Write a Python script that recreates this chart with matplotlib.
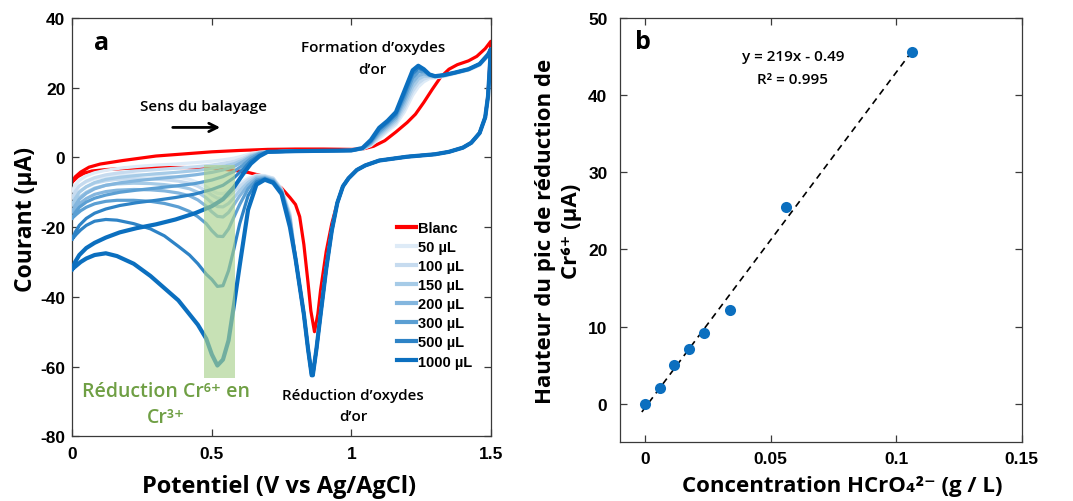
import matplotlib
matplotlib.use("Agg")
import matplotlib.pyplot as plt
import numpy as np
from matplotlib.patches import Rectangle

plt.rcParams['font.family'] = ['Open Sans', 'DejaVu Sans']
plt.rcParams['axes.unicode_minus'] = False

# ---------------- panel a : voltammograms ----------------
labels = ['50 µL', '100 µL', '150 µL', '200 µL', '300 µL', '500 µL', '1000 µL']
colors = ['#deebf7', '#c6dbef', '#a6cbe7', '#84b6de', '#5b9fd3', '#2e83c6', '#0b6fbf']

# blank (red)
blank_fwd_x = [0, 0.01, 0.03, 0.06, 0.1, 0.18, 0.3, 0.4, 0.5, 0.6, 0.7, 0.8, 0.9, 1.0, 1.04, 1.08,
               1.12, 1.16, 1.2, 1.23, 1.26, 1.29, 1.32, 1.35, 1.38, 1.42, 1.45, 1.48, 1.5]
blank_fwd_y = [-7, -5.6, -4.2, -2.8, -1.9, -0.9, 0.4, 1.0, 1.6, 2.0, 2.3, 2.4, 2.4, 2.3, 2.4, 3.2,
               4.8, 7.3, 10.0, 12.4, 15.8, 19.5, 23.0, 25.3, 26.6, 27.7, 29.0, 31.2, 33.3]
blank_rev_x = [1.5, 1.495, 1.49, 1.48, 1.46, 1.43, 1.4, 1.35, 1.3, 1.2, 1.1, 1.05, 1.02, 0.99, 0.97,
               0.95, 0.93, 0.91, 0.89, 0.88, 0.868, 0.855, 0.845, 0.83, 0.815, 0.8, 0.78, 0.75, 0.72,
               0.68, 0.63, 0.58, 0.5, 0.4, 0.3, 0.2, 0.12, 0.07, 0.04, 0.02, 0.0]
blank_rev_y = [33.3, 25, 18, 11.5, 7, 4.2, 2.8, 1.6, 0.9, 0.2, -0.9, -2.3, -3.6, -6, -8.3,
               -13, -19, -27, -38, -45, -50, -44, -36, -25, -17, -13.5, -11.5, -8.8, -7,
               -5.3, -4.3, -3.7, -3.1, -2.9, -2.9, -3.1, -3.5, -3.9, -4.6, -5.5, -7.0]

# Cr(VI) additions (blue), forward sweep 0 -> 0.67 V
fwd_x_left = [0, 0.01, 0.025, 0.05, 0.08, 0.12, 0.17, 0.23, 0.3, 0.37, 0.44, 0.5, 0.54, 0.58,
              0.61, 0.64, 0.67]
fwd_y_left = [
    [-9.5, -8, -6.6, -5.3, -4.4, -3.7, -3.1, -2.6, -2.2, -1.9, -1.5, -1.1, -0.7, -0.2, 0.4, 1.1, 1.5],
    [-11.5, -9.8, -8.2, -6.8, -5.8, -5.0, -4.4, -3.9, -3.5, -3.1, -2.7, -2.2, -1.7, -1.1, -0.3, 0.8, 1.4],
    [-13.5, -11.8, -10, -8.4, -7.2, -6.3, -5.7, -5.2, -4.7, -4.3, -3.8, -3.2, -2.6, -1.8, -0.8, 0.5, 1.3],
    [-15.5, -13.8, -12, -10.3, -9, -8, -7.3, -6.7, -6.1, -5.6, -5, -4.3, -3.6, -2.6, -1.3, 0.2, 1.2],
    [-17.4, -15.8, -14.3, -12.8, -11.7, -10.8, -10, -9.4, -8.8, -8.2, -7.5, -6.5, -5.5, -4, -2.3, -0.3, 1.0],
    [-23.4, -21.5, -19.5, -17.5, -16, -14.8, -13.8, -13, -12.3, -11.5, -10.5, -9.2, -8, -5.8, -3.5, -1, 0.6],
    [-32, -30, -28, -26, -24.5, -23, -21.5, -20.3, -19.2, -17.8, -16, -14, -12, -8.5, -5, -1.8, 0.3],
]
# forward sweep 0.70 -> 1.5 V (gold oxide formation)
fwd_x_au = [0.7, 0.8, 0.9, 1.0, 1.04, 1.07, 1.1, 1.13, 1.16, 1.19, 1.22, 1.24, 1.26, 1.28, 1.3,
            1.33, 1.37, 1.42, 1.46, 1.49, 1.5]
fwd_y_au = [
    [1.6, 1.8, 1.9, 2.0, 2.4, 3.4, 5.4, 7.5, 9.4, 13.0, 17.8, 20.2, 21.7, 22.6, 22.8, 23.2, 24.0, 25.0, 26.4, 29.0, 30.5],
    [1.6, 1.8, 1.9, 2.0, 2.4, 3.6, 5.9, 8.0, 10.0, 14.0, 19.0, 21.3, 22.5, 23.0, 23.0, 23.3, 24.1, 25.1, 26.5, 29.1, 30.6],
    [1.6, 1.8, 1.9, 2.0, 2.5, 3.8, 6.4, 8.5, 10.6, 15.0, 20.2, 22.4, 23.3, 23.3, 23.1, 23.4, 24.2, 25.2, 26.6, 29.2, 30.7],
    [1.6, 1.8, 1.9, 2.0, 2.5, 4.0, 6.9, 9.0, 11.2, 16.0, 21.5, 23.4, 24.0, 23.5, 23.2, 23.5, 24.2, 25.2, 26.7, 29.3, 30.8],
    [1.6, 1.8, 1.9, 2.0, 2.6, 4.3, 7.4, 9.5, 11.8, 17.0, 22.8, 24.5, 24.6, 23.7, 23.3, 23.6, 24.3, 25.3, 26.8, 29.4, 30.9],
    [1.6, 1.8, 1.9, 2.0, 2.6, 4.6, 8.0, 10.0, 12.4, 18.0, 24.0, 25.5, 25.0, 23.8, 23.3, 23.6, 24.3, 25.3, 26.8, 29.5, 31.0],
    [1.6, 1.8, 1.9, 2.0, 2.7, 5.0, 8.5, 10.5, 13.0, 19.0, 25.0, 26.3, 25.3, 23.8, 23.3, 23.6, 24.3, 25.3, 26.8, 29.5, 31.0],
]
# reverse sweep 1.5 -> 0.80 V (gold oxide reduction), common to all additions
rev_x_au = [1.5, 1.495, 1.49, 1.48, 1.46, 1.43, 1.4, 1.35, 1.3, 1.2, 1.1, 1.05, 1.02, 0.99, 0.97,
            0.95, 0.93, 0.91, 0.89, 0.875, 0.862, 0.858, 0.845, 0.83, 0.815, 0.8]
rev_y_au = [31, 24, 17.5, 11.5, 7, 4.2, 2.8, 1.6, 0.9, 0.2, -0.9, -2.3, -3.6, -6, -8.3,
            -13, -21, -32, -45, -55, -62.5, -62.5, -55, -45, -37, -29]
# reverse sweep 0.78 -> 0 V (Cr(VI) reduction)
rev_x_left = [0.78, 0.75, 0.72, 0.69, 0.66, 0.63, 0.6, 0.58, 0.56, 0.54, 0.52, 0.5, 0.48, 0.45,
              0.42, 0.38, 0.33, 0.28, 0.22, 0.16, 0.12, 0.08, 0.05, 0.03, 0.015, 0.0]
rev_y_left = [
    [-16, -9, -5.9, -5.2, -5.1, -6, -7.5, -8.8, -9.8, -10.4, -10.3, -9.5, -8.4, -7.2, -6.3, -5.7, -5.3, -5.1, -5, -5.1, -5.5, -6.1, -7, -7.9, -8.7, -9.5],
    [-16.5, -9.2, -6, -5.4, -5.3, -6.5, -8.3, -9.8, -11, -11.8, -11.7, -10.8, -9.6, -8.3, -7.4, -6.8, -6.4, -6.2, -6.1, -6.3, -6.7, -7.4, -8.5, -9.5, -10.5, -11.5],
    [-17, -9.4, -6.3, -5.6, -5.6, -7.2, -9.5, -11.5, -13.2, -14.2, -14.1, -13, -11.6, -10, -9, -8.3, -7.8, -7.5, -7.4, -7.6, -8, -8.8, -10, -11.2, -12.3, -13.5],
    [-17.5, -9.6, -6.5, -5.8, -6, -8, -11, -13.5, -15.8, -17.1, -16.9, -15.6, -14, -12.2, -11, -10.2, -9.6, -9.3, -9.2, -9.4, -9.8, -10.6, -11.8, -13, -14.2, -15.5],
    [-18, -9.8, -6.8, -6, -6.5, -9, -13.5, -17, -20.5, -22.7, -22.6, -21, -19, -17, -15.5, -14.2, -13.2, -12.6, -12.3, -12.3, -12.6, -13.3, -14.3, -15.3, -16.3, -17.4],
    [-19, -10, -7, -6.2, -7, -11, -19, -26, -32.5, -36.8, -37, -35, -33.5, -30.5, -28, -25.5, -22.5, -20.5, -19, -18, -17.8, -18.3, -19.5, -20.8, -22, -23.4],
    [-20, -10.5, -7.3, -6.4, -7.8, -15, -31, -42, -52.5, -58, -59.7, -56.5, -52, -48, -45, -41, -37.5, -34, -30.5, -28.3, -27.5, -28, -29, -30, -31, -32],
]

# ---------------- panel b : calibration ----------------
conc = [0, 0.0059, 0.0116, 0.0175, 0.0234, 0.0339, 0.0560, 0.1065]
peak_height = [0, 2.1, 5.0, 7.1, 9.2, 12.2, 25.5, 45.6]
fit_range = [-0.0013, 0.1065]

tick_font = dict(family='Liberation Sans', weight='bold', size=12.5)
axis_color = '#3a3a3a'

fig = plt.figure(figsize=(10.73, 5.02), dpi=100)
ax1 = fig.add_axes([0.0674, 0.1289, 0.39, 0.8333])
ax2 = fig.add_axes([0.5778, 0.1169, 0.3744, 0.8452])

# --- panel a
ax1.plot(blank_fwd_x + blank_rev_x, blank_fwd_y + blank_rev_y, color='#ff0000', lw=2.3,
         label='Blanc', zorder=2, solid_joinstyle='round')
for i in range(len(labels)):
    xs = fwd_x_left + fwd_x_au + rev_x_au + rev_x_left
    ys = fwd_y_left[i] + fwd_y_au[i] + rev_y_au + rev_y_left[i]
    lw = 3.0 if i == len(labels) - 1 else 2.3
    ax1.plot(xs, ys, color=colors[i], lw=lw, label=labels[i], zorder=3 + i,
             solid_joinstyle='round')

ax1.add_patch(Rectangle((0.472, -63.4), 0.111, 61.3, facecolor='#a9d18e', alpha=0.65,
                        edgecolor='none', zorder=20))

ax1.set_xlim(0, 1.5)
ax1.set_ylim(-80, 40)
ax1.set_xticks([0, 0.5, 1, 1.5])
ax1.set_xticklabels(['0', '0.5', '1', '1.5'])
ax1.set_yticks([-80, -60, -40, -20, 0, 20, 40])

note = dict(fontsize=11, fontweight='semibold', ha='center', va='center')
ax1.text(0.105, 33.1, 'a', fontsize=18, fontweight='bold', ha='center', va='center')
ax1.text(1.077, 31.7, 'Formation d’oxydes', **note)
ax1.text(1.077, 25.3, 'd’or', **note)
ax1.text(0.469, 14.7, 'Sens du balayage', **note)
ax1.annotate('', xy=(0.54, 8.6), xytext=(0.35, 8.6),
             arrowprops=dict(arrowstyle='->,head_length=0.6,head_width=0.3', lw=2, color='k'))
ax1.text(1.007, -68.1, 'Réduction d’oxydes', **note)
ax1.text(1.007, -74.1, 'd’or', **note)
ax1.text(0.335, -66.9, 'Réduction Cr⁶⁺ en', fontsize=14, fontweight='semibold',
         color='#6f9f44', ha='center', va='center')
ax1.text(0.335, -74.5, 'Cr³⁺', fontsize=14, fontweight='semibold',
         color='#6f9f44', ha='center', va='center')

leg = ax1.legend(loc='upper left', bbox_to_anchor=(0.775, 0.515), frameon=False,
                 handlelength=1.3, handletextpad=0.15, labelspacing=0.35, borderaxespad=0,
                 borderpad=0, prop=dict(family='Liberation Sans', weight='bold', size=10.5))
for h in leg.get_lines():
    h.set_linewidth(3)

ax1.set_xlabel('Potentiel (V vs Ag/AgCl)', fontsize=17, fontweight='bold')
ax1.set_ylabel('Courant (µA)', fontsize=16.5, fontweight='bold')
ax1.xaxis.set_label_coords(0.494, -0.09)
ax1.yaxis.set_label_coords(-0.083, 0.52)

# --- panel b
slope, intercept = np.polyfit(conc, peak_height, 1)
ax2.plot(fit_range, [slope * v + intercept for v in fit_range], ls=(0, (4, 3)),
         color='k', lw=1.2, zorder=2)
ax2.plot(conc, peak_height, 'o', color='#0b6fbf', ms=8, mec='none', zorder=3)
ax2.set_xlim(-0.01, 0.15)
ax2.set_ylim(-5, 50)
ax2.set_xticks([0, 0.05, 0.1, 0.15])
ax2.set_xticklabels(['0', '0.05', '0.1', '0.15'])
ax2.set_yticks([0, 10, 20, 30, 40, 50])

ax2.text(-0.0008, 46.9, 'b', fontsize=18, fontweight='bold', ha='center', va='center')
ax2.text(0.0589, 45.06, 'y = 219x - 0.49', **note)
ax2.text(0.0589, 42.1, 'R² = 0.995', **note)

ax2.set_xlabel('Concentration HCrO₄²⁻ (g / L)', fontsize=16, fontweight='bold')
ax2.set_ylabel('Hauteur du pic de réduction de\nCr⁶⁺ (µA)', fontsize=16, fontweight='bold',
               linespacing=1.3)
ax2.xaxis.set_label_coords(0.553, -0.078)
ax2.yaxis.set_label_coords(-0.095, 0.5)

for ax in (ax1, ax2):
    for s in ax.spines.values():
        s.set_color(axis_color)
        s.set_linewidth(0.9)
    ax.tick_params(direction='in', length=5, width=0.9, color=axis_color, top=True, right=True)
    for lab in ax.get_xticklabels() + ax.get_yticklabels():
        lab.set_fontproperties(tick_font)
ax1.tick_params(axis='y', pad=5)
ax1.tick_params(axis='x', pad=7)
ax2.tick_params(axis='y', pad=9)
ax2.tick_params(axis='x', pad=6)

fig.savefig('out.png', dpi=100)
